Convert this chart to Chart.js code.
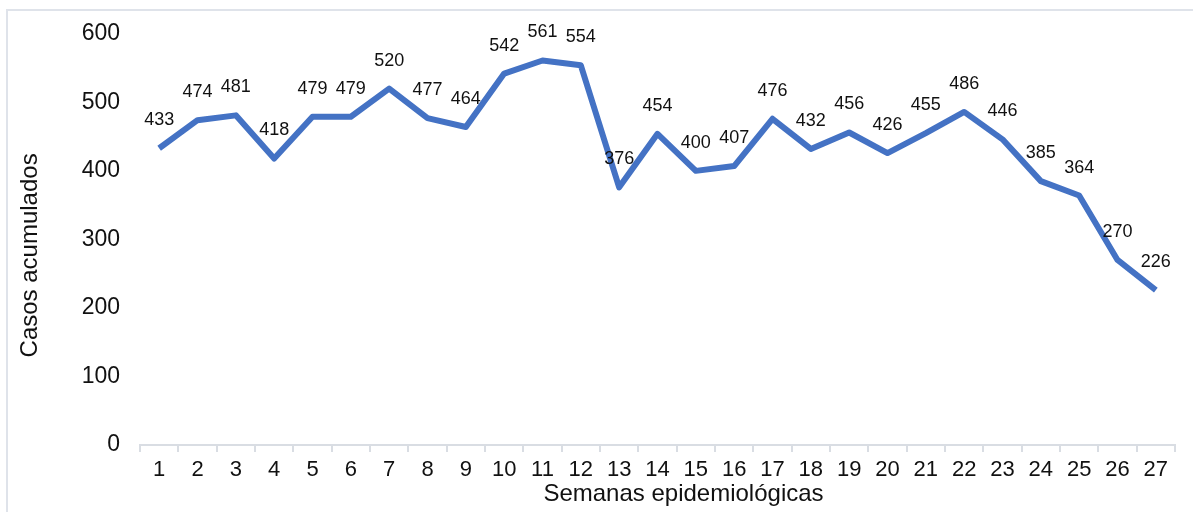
<!DOCTYPE html>
<html lang="es">
<head>
    <meta charset="UTF-8">
    <title>Casos acumulados por semana epidemiológica</title>
    <script src="https://cdn.jsdelivr.net/npm/chart.js"></script>
    <style>
        body {
            margin: 0;
            background: #fff;
            overflow: hidden;
        }
        #wrap {
            position: relative;
            width: 1193px;
            height: 512px;
        }
        #frame {
            position: absolute;
            left: 6px;
            top: 9px;
            width: 1300px;
            height: 600px;
            border: 2px solid #dfe3ea;
        }
        #casesChart {
            position: absolute;
            left: 0;
            top: 0;
        }
    </style>
</head>
<body>
<div id="wrap">
    <div id="frame"></div>
    <canvas id="casesChart" width="1193" height="512"></canvas>
</div>

<script>
    // semanas epidemiológicas 1..27
    const semanas = ['1','2','3','4','5','6','7','8','9','10','11','12','13','14',
                     '15','16','17','18','19','20','21','22','23','24','25','26','27'];
    const casos = [433, 474, 481, 418, 479, 479, 520, 477, 464, 542, 561, 554, 376, 454,
                   400, 407, 476, 432, 456, 426, 455, 486, 446, 385, 364, 270, 226];
    const yTicks = [0, 100, 200, 300, 400, 500, 600];
    const xTitle = 'Semanas epidemiológicas';
    const yTitle = 'Casos acumulados';

    const fontFamily = 'Arial, "Liberation Sans", sans-serif';

    // draws the value above each point, like the Excel data labels
    const valueLabels = {
        id: 'valueLabels',
        afterDatasetsDraw(chart) {
            const c = chart.ctx;
            const meta = chart.getDatasetMeta(0);
            c.save();
            c.font = '18px ' + fontFamily;
            c.fillStyle = '#111';
            c.textAlign = 'center';
            c.textBaseline = 'middle';
            meta.data.forEach((pt, i) => {
                c.fillText(String(casos[i]), pt.x, pt.y - 28);
            });
            c.restore();
        }
    };

    // axis titles, placed a bit off-centre as in the original Excel chart
    const axisTitles = {
        id: 'axisTitles',
        afterDraw(chart) {
            const c = chart.ctx;
            const a = chart.chartArea;
            c.save();
            c.font = '24px ' + fontFamily;
            c.fillStyle = '#111';
            c.textAlign = 'center';
            c.textBaseline = 'alphabetic';
            c.fillText(xTitle, (a.left + a.right) / 2 + 26, chart.height - 11);
            c.translate(37, (a.top + a.bottom) / 2 + 16);
            c.rotate(-Math.PI / 2);
            c.fillText(yTitle, 0, 0);
            c.restore();
        }
    };

    new Chart(document.getElementById('casesChart').getContext('2d'), {
        type: 'line',
        data: {
            labels: semanas,
            datasets: [{
                data: casos,
                borderColor: '#4472c4',
                borderWidth: 6,
                pointRadius: 0,
                tension: 0,
                fill: false,
                borderJoinStyle: 'round'
            }]
        },
        options: {
            responsive: false,
            animation: false,
            layout: { padding: { top: 33, right: 18, left: 0, bottom: 0 } },
            plugins: {
                legend: { display: false },
                tooltip: { enabled: false }
            },
            scales: {
                x: {
                    offset: true,
                    grid: {
                        offset: true,
                        drawOnChartArea: false,
                        color: '#d9dde3',
                        lineWidth: 2,
                        tickLength: 7
                    },
                    border: { color: '#d9dde3', width: 2 },
                    ticks: {
                        color: '#111',
                        font: { family: fontFamily, size: 22 },
                        padding: 5,
                        maxRotation: 0,
                        autoSkip: false
                    },
                    afterFit(scale) { scale.height = 67; }
                },
                y: {
                    min: 0,
                    max: 600,
                    afterBuildTicks(scale) {
                        scale.ticks = yTicks.map(v => ({ value: v }));
                    },
                    grid: { display: false, drawTicks: false },
                    border: { display: false },
                    ticks: {
                        color: '#111',
                        font: { family: fontFamily, size: 23 },
                        padding: 20
                    },
                    afterFit(scale) { scale.width = 140; }
                }
            }
        },
        plugins: [valueLabels, axisTitles]
    });
</script>
</body>
</html>
